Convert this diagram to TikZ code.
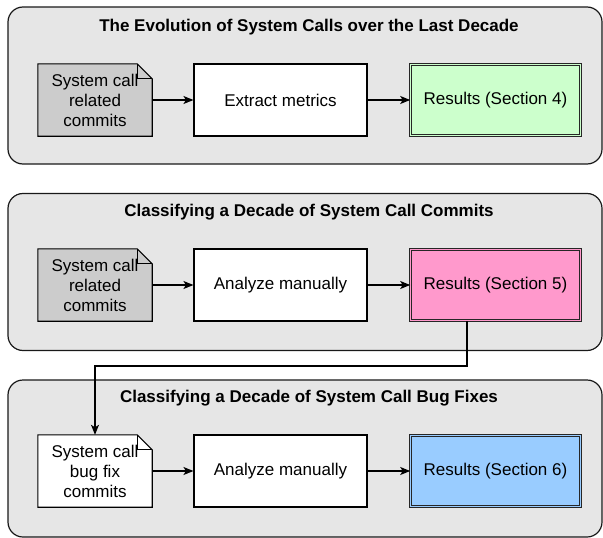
\documentclass[tikz,border=0pt]{standalone}
\usepackage{fontspec}
\setmainfont{Liberation Sans}
\usetikzlibrary{arrows.meta,backgrounds}
\definecolor{contfill}{HTML}{E6E6E6}
\definecolor{docgray}{HTML}{CCCCCC}
\definecolor{resgreen}{HTML}{CCFFCC}
\definecolor{respink}{HTML}{FF99CC}
\definecolor{resblue}{HTML}{99CCFF}
\begin{document}
\begin{tikzpicture}[x=1pt,y=-1pt,
  every node/.style={font=\fontsize{17}{20}\selectfont},
  container/.style={draw=black!90, fill=contfill, line width=1.2pt, rounded corners=15pt, minimum width=594pt, minimum height=157pt, inner sep=0pt},
  titletext/.style={font=\fontsize{17}{20}\selectfont\bfseries},
  docnode/.style={minimum width=114pt, minimum height=72pt, inner sep=0pt, align=center},
  docshape/.style={draw=black, line width=1.1pt, fill=#1},
  procbox/.style={draw=black, fill=white, line width=1.1pt, minimum width=173pt, minimum height=72pt, inner sep=0pt},
  resbox/.style={draw=black!85, fill=#1, double=#1, double distance=1.6pt, line width=0.8pt, minimum width=169.8pt, minimum height=70.8pt, inner sep=0pt},
  arr/.style={draw=black, line width=1.1pt, -{Stealth[length=10pt,width=8pt,inset=2.5pt]}}
]
\useasboundingbox (0,0) rectangle (603,538);

% row 1
\node[titletext] (t1) at (309,27) {The Evolution of System Calls over the Last Decade};
\node[docnode] (d1) at (95,100) {System call\\related\\commits};
\node[procbox] (p1) at (280.5,100) {Extract metrics};
\node[resbox=resgreen] (r1) at (495.5,100) {Results (Section 4)};
\draw[arr] (d1) -- (p1);
\draw[arr] (p1) -- (r1);

% row 2
\node[titletext] (t2) at (309,212) {Classifying a Decade of System Call Commits};
\node[docnode] (d2) at (95,285) {System call\\related\\commits};
\node[procbox] (p2) at (280.5,285) {Analyze manually};
\node[resbox=respink] (r2) at (495.5,285) {Results (Section 5)};
\draw[arr] (d2) -- (p2);
\draw[arr] (p2) -- (r2);

% row 3
\node[titletext] (t3) at (309,398) {Classifying a Decade of System Call Bug Fixes};
\node[docnode] (d3) at (95,471) {System call\\bug fix\\commits};
\node[procbox] (p3) at (280.5,471) {Analyze manually};
\node[resbox=resblue] (r3) at (495.5,471) {Results (Section 6)};
\draw[arr] (d3) -- (p3);
\draw[arr] (p3) -- (r3);

% connector between sections
\coordinate (k1) at (467,366);
\draw[arr] (r2.south -| k1) -- (k1) -- (k1 -| d3.north) -- (d3.north);

\begin{scope}[on background layer]
  \node[container] (c1) at (305,85.5) {};
  \node[container] (c2) at (305,272) {};
  \node[container] (c3) at (305,458.5) {};
  \foreach \d/\c in {d1/docgray, d2/docgray, d3/white}{
    \draw[docshape=\c, line join=miter] (\d.north west) -- ([xshift=-15pt]\d.north east) -- ([yshift=-15pt]\d.north east) -- (\d.south east) -- (\d.south west) -- cycle;
    \draw[line width=1.1pt] ([xshift=-15pt]\d.north east) -- ([xshift=-15pt,yshift=-15pt]\d.north east) -- ([yshift=-15pt]\d.north east);
  }
\end{scope}
\end{tikzpicture}
\end{document}
